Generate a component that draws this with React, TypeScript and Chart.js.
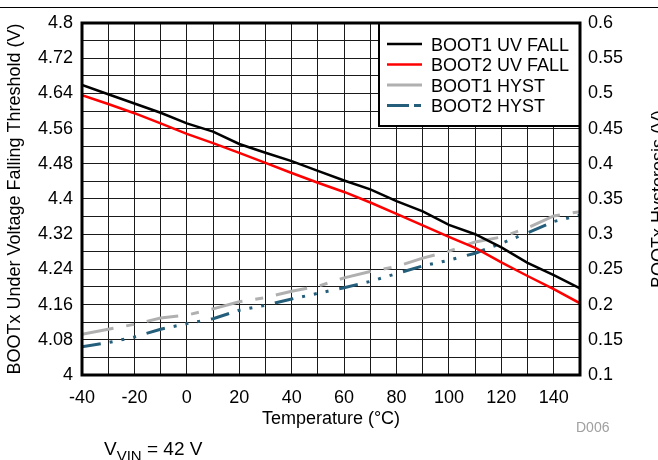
import React, { useEffect, useRef } from 'react';
import { Chart, registerables } from 'chart.js';

Chart.register(...registerables);

// ---- data ----
const temps = [-40, -30, -20, -10, 0, 10, 20, 30, 40, 50, 60, 70, 80, 90, 100, 110, 120, 130, 140, 150];
const boot1UvFall = [4.659, 4.638, 4.617, 4.596, 4.572, 4.553, 4.525, 4.505, 4.486, 4.464, 4.442, 4.422, 4.395, 4.372, 4.341, 4.32, 4.29, 4.255, 4.227, 4.197];
const boot2UvFall = [4.636, 4.616, 4.595, 4.572, 4.548, 4.527, 4.505, 4.482, 4.459, 4.437, 4.416, 4.392, 4.366, 4.34, 4.314, 4.289, 4.256, 4.225, 4.195, 4.163];
const boot1Hyst = [0.158, 0.165, 0.172, 0.181, 0.185, 0.194, 0.204, 0.21, 0.219, 0.226, 0.238, 0.247, 0.254, 0.266, 0.276, 0.289, 0.296, 0.309, 0.326, 0.332];
const boot2Hyst = [0.14, 0.146, 0.154, 0.165, 0.173, 0.18, 0.192, 0.199, 0.208, 0.216, 0.224, 0.233, 0.244, 0.255, 0.263, 0.273, 0.287, 0.302, 0.318, 0.327];
const seriesNames = ['BOOT1 UV FALL', 'BOOT2 UV FALL', 'BOOT1 HYST', 'BOOT2 HYST'];

const xTickValues = [-40, -30, -20, -10, 0, 10, 20, 30, 40, 50, 60, 70, 80, 90, 100, 110, 120, 130, 140, 150];
const xTickLabels = ['-40', '', '-20', '', '0', '', '20', '', '40', '', '60', '', '80', '', '100', '', '120', '', '140', ''];
const leftTickValues = [4, 4.04, 4.08, 4.12, 4.16, 4.2, 4.24, 4.28, 4.32, 4.36, 4.4, 4.44, 4.48, 4.52, 4.56, 4.6, 4.64, 4.68, 4.72, 4.76, 4.8];
const leftTickLabels = ['4', '', '4.08', '', '4.16', '', '4.24', '', '4.32', '', '4.4', '', '4.48', '', '4.56', '', '4.64', '', '4.72', '', '4.8'];
const rightTickValues = [0.1, 0.15, 0.2, 0.25, 0.3, 0.35, 0.4, 0.45, 0.5, 0.55, 0.6];
const rightTickLabels = ['0.1', '0.15', '0.2', '0.25', '0.3', '0.35', '0.4', '0.45', '0.5', '0.55', '0.6'];

const FONT = "'Liberation Sans', Arial, Helvetica, sans-serif";
const COLORS = ['#000000', '#ff0000', '#b0b0b0', '#245e7a'];
const WIDTHS = [2.5, 2.5, 3, 3];
const DASHES: number[][] = [[], [], [32, 13, 8, 13], [19, 9, 3, 9, 3, 9, 3, 11]];

const decorPlugin = {
  id: 'decor',
  afterDraw(chart: any) {
    const ctx = chart.ctx as CanvasRenderingContext2D;
    const a = chart.chartArea;
    ctx.save();
    // top page rule
    ctx.strokeStyle = '#000';
    ctx.lineWidth = 1;
    ctx.setLineDash([]);
    ctx.beginPath();
    ctx.moveTo(0, 7.5);
    ctx.lineTo(658, 7.5);
    ctx.stroke();

    // legend box
    const lx = 379, ly = a.top, lr = a.right, lb = 126;
    ctx.fillStyle = '#fff';
    ctx.fillRect(lx, ly, lr - lx, lb - ly);
    ctx.lineWidth = 2;
    ctx.strokeStyle = '#000';
    ctx.strokeRect(lx, ly, lr - lx, lb - ly);

    // plot frame
    ctx.lineWidth = 3;
    ctx.strokeRect(a.left, a.top, a.right - a.left, a.bottom - a.top);

    // legend entries
    const rows = [44, 64.5, 85, 105.5];
    const legendDash: number[][] = [[], [], [], [22, 5, 7, 100]];
    ctx.font = `18px ${FONT}`;
    ctx.textAlign = 'left';
    ctx.textBaseline = 'alphabetic';
    for (let i = 0; i < 4; i++) {
      ctx.beginPath();
      ctx.setLineDash(legendDash[i]);
      ctx.strokeStyle = COLORS[i];
      ctx.lineWidth = WIDTHS[i];
      ctx.moveTo(387, rows[i]);
      ctx.lineTo(422, rows[i]);
      ctx.stroke();
      ctx.setLineDash([]);
      ctx.fillStyle = '#000';
      ctx.fillText(seriesNames[i], 431, rows[i] + 6.5);
    }

    // right axis title (clipped by page edge)
    ctx.save();
    ctx.translate(664, (a.top + a.bottom) / 2);
    ctx.rotate(-Math.PI / 2);
    ctx.textAlign = 'center';
    ctx.fillStyle = '#000';
    ctx.font = `18px ${FONT}`;
    ctx.fillText('BOOTx Hysteresis (V)', 0, 0);
    ctx.restore();

    // D006
    ctx.fillStyle = '#a0a0a0';
    ctx.font = `14px ${FONT}`;
    ctx.textAlign = 'left';
    ctx.fillText('D006', 576, 431.5);

    // V_VIN = 42 V
    ctx.fillStyle = '#000';
    ctx.font = `19px ${FONT}`;
    ctx.fillText('V', 104, 455);
    let x = 104 + ctx.measureText('V').width;
    ctx.font = `15px ${FONT}`;
    ctx.fillText('VIN', x, 461);
    x += ctx.measureText('VIN').width;
    ctx.font = `19px ${FONT}`;
    ctx.fillText(' = 42 V', x, 455);
    ctx.restore();
  },
};

export default function App() {
  const ref = useRef<HTMLCanvasElement | null>(null);
  useEffect(() => {
    if (!ref.current) return;
    Chart.defaults.font.family = FONT;
    Chart.defaults.color = '#000';
    const mk = (vals: number[]) => temps.map((t, i) => ({ x: t, y: vals[i] }));
    const seriesVals = [boot1UvFall, boot2UvFall, boot1Hyst, boot2Hyst];
    const chart = new Chart(ref.current, {
      type: 'line',
      data: {
        datasets: seriesVals.map((vals, i) => ({
          label: seriesNames[i],
          data: mk(vals),
          yAxisID: i < 2 ? 'y' : 'y2',
          borderColor: COLORS[i],
          backgroundColor: COLORS[i],
          borderWidth: WIDTHS[i],
          borderDash: DASHES[i],
          pointRadius: 0,
          tension: 0,
          fill: false,
        })),
      },
      options: {
        responsive: false,
        animation: false,
        devicePixelRatio: 1,
        layout: { padding: { top: 23, left: 0, right: 0, bottom: 0 } },
        plugins: { legend: { display: false }, tooltip: { enabled: false } },
        scales: {
          x: {
            type: 'linear',
            min: -40,
            max: 150,
            afterBuildTicks: (s: any) => { s.ticks = xTickValues.map((v) => ({ value: v })); },
            afterFit: (s: any) => { s.height = 85; },
            ticks: {
              autoSkip: false,
              maxRotation: 0,
              padding: 12,
              font: { size: 18 },
              color: '#000',
              callback: (_v: any, i: number) => xTickLabels[i],
            },
            grid: { color: '#1a1a1a', lineWidth: 1, drawTicks: false },
            border: { display: false },
            title: { display: true, text: 'Temperature (°C)', font: { size: 18 }, color: '#000', padding: { top: 0, bottom: 30 } },
          },
          y: {
            type: 'linear',
            position: 'left',
            min: 4,
            max: 4.8,
            afterBuildTicks: (s: any) => { s.ticks = leftTickValues.map((v) => ({ value: v })); },
            afterFit: (s: any) => { s.width = 82; },
            ticks: {
              autoSkip: false,
              padding: 9,
              font: { size: 18 },
              color: '#000',
              callback: (_v: any, i: number) => leftTickLabels[i],
            },
            grid: { color: '#1a1a1a', lineWidth: 1, drawTicks: false },
            border: { display: false },
            title: { display: true, text: 'BOOTx Under Voltage Falling Threshold (V)', font: { size: 18 }, color: '#000', padding: { top: 4, bottom: 0 } },
          },
          y2: {
            type: 'linear',
            position: 'right',
            min: 0.1,
            max: 0.6,
            afterBuildTicks: (s: any) => { s.ticks = rightTickValues.map((v) => ({ value: v })); },
            afterFit: (s: any) => { s.width = 78; },
            ticks: {
              autoSkip: false,
              padding: 8,
              font: { size: 18 },
              color: '#000',
              callback: (_v: any, i: number) => rightTickLabels[i],
            },
            grid: { drawOnChartArea: false, drawTicks: false },
            border: { display: false },
          },
        },
      },
      plugins: [decorPlugin],
    } as any);
    return () => chart.destroy();
  }, []);
  return (
    <div style={{ position: 'absolute', left: 0, top: 0, width: 658, height: 460, overflow: 'hidden', background: '#fff' }}>
      <canvas ref={ref} width={658} height={460} style={{ display: 'block' }} />
    </div>
  );
}
